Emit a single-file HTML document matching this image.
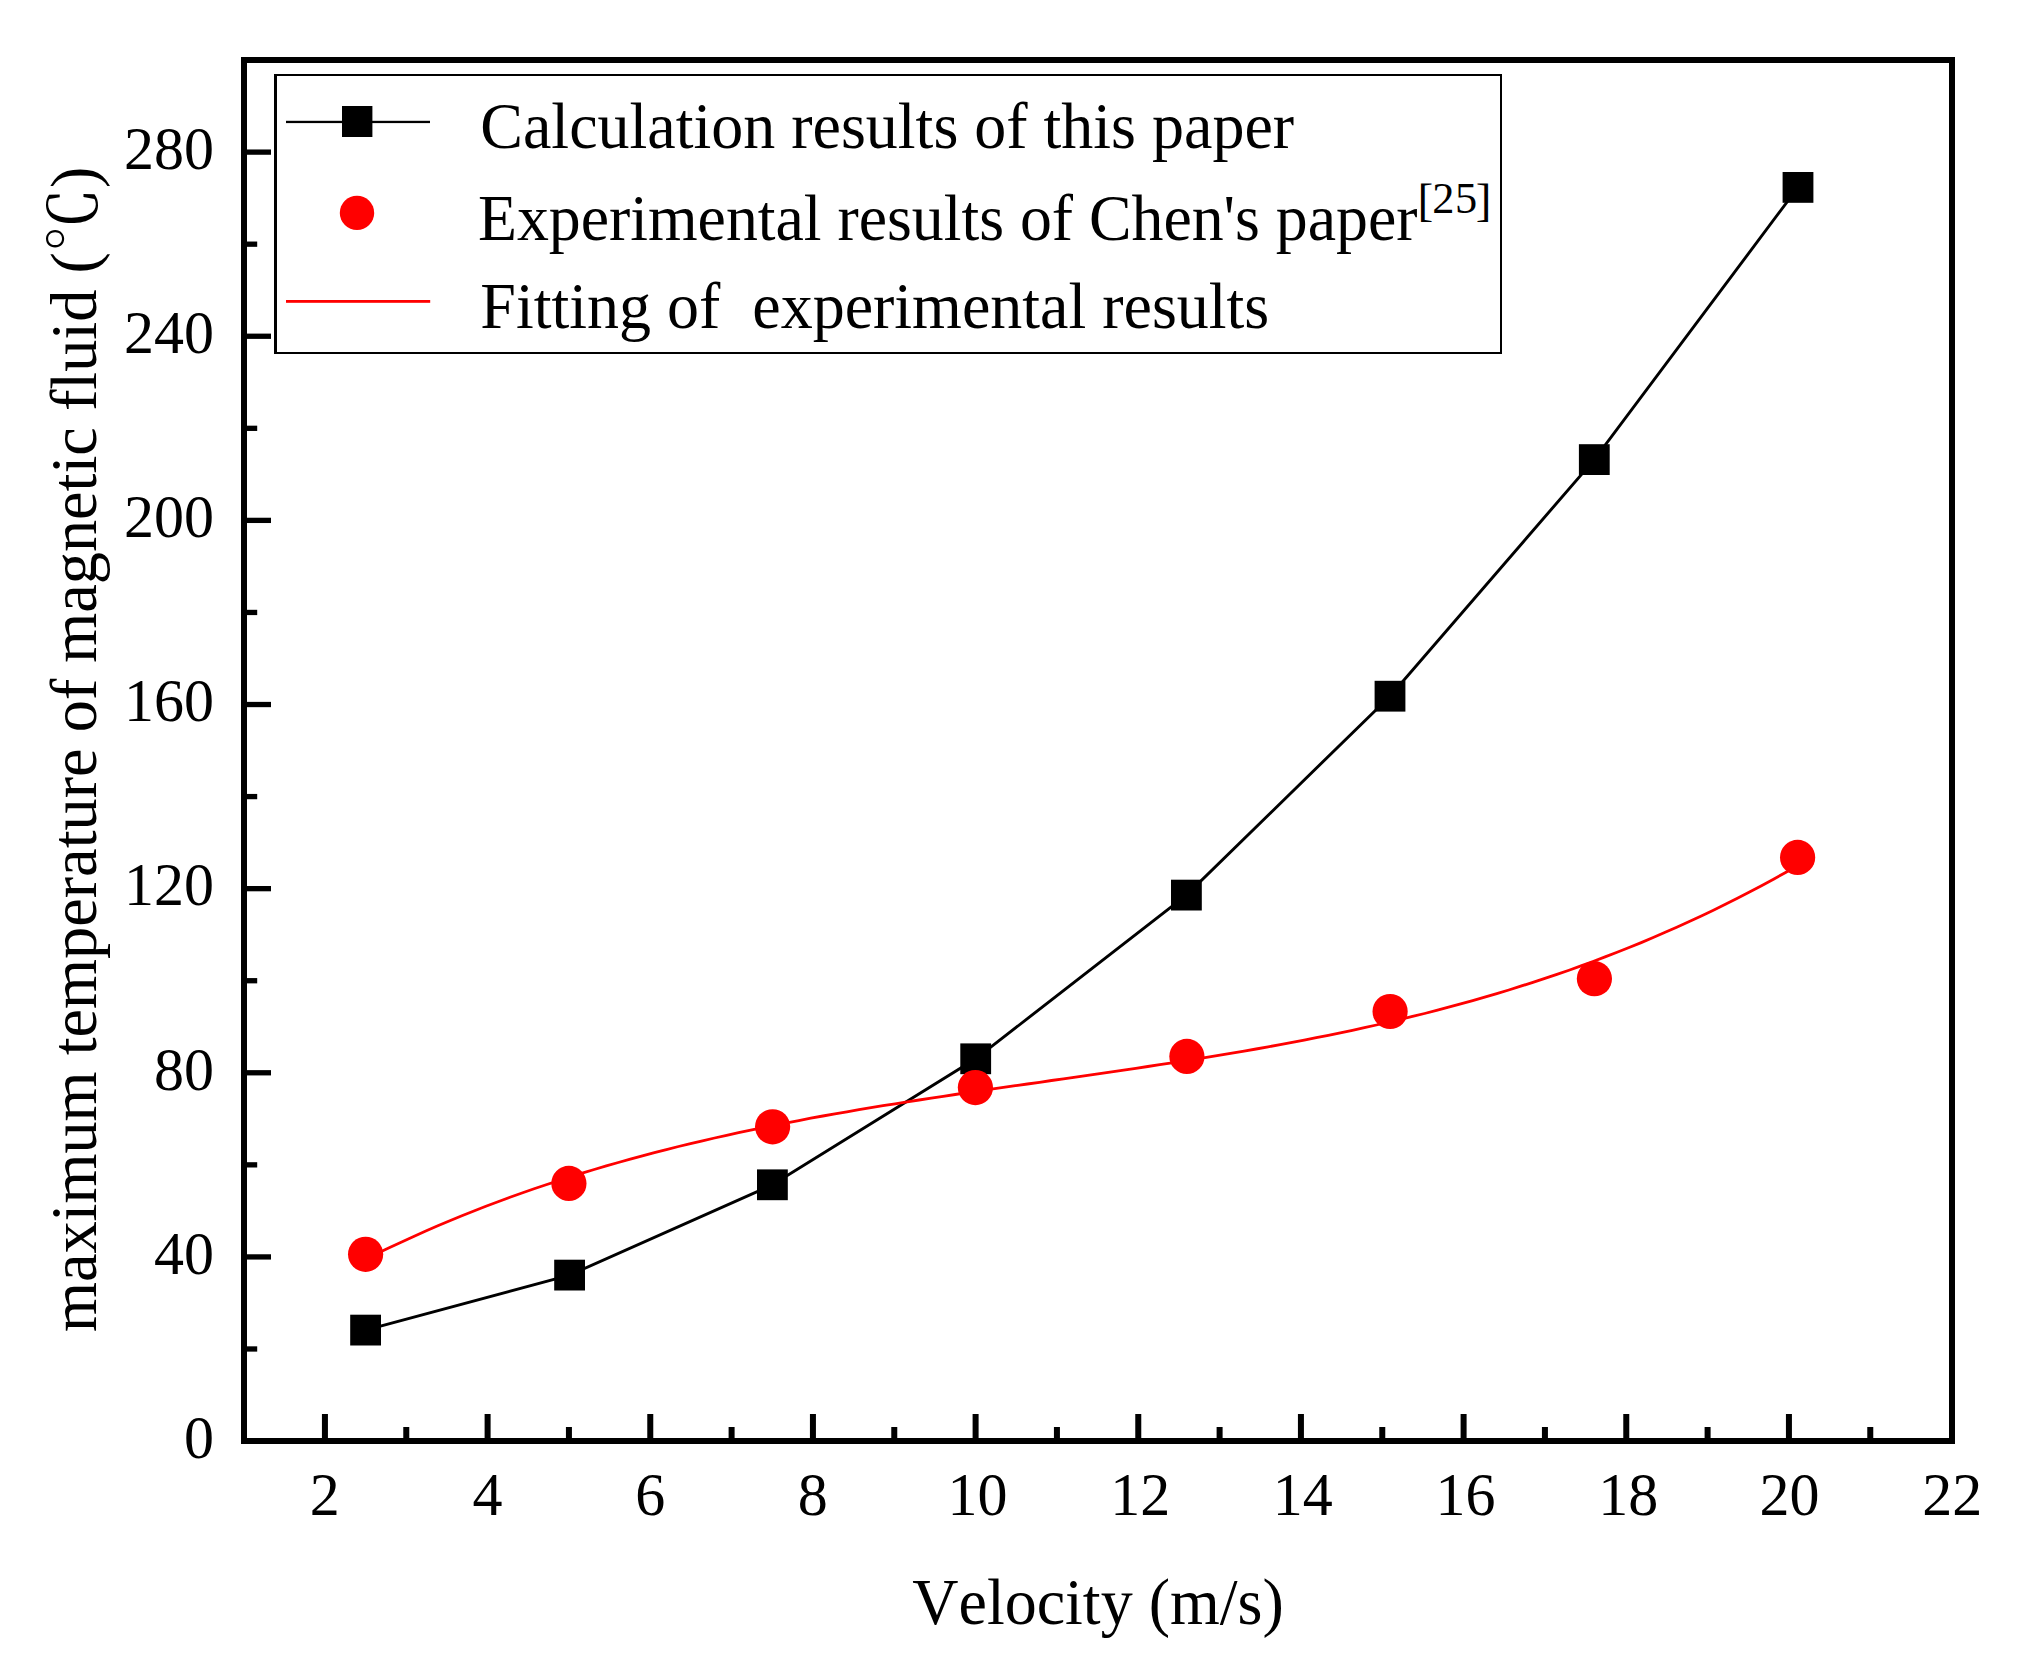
<!DOCTYPE html>
<html lang="en"><head><meta charset="utf-8"><title>Maximum temperature of magnetic fluid vs velocity</title>
<style>
html,body{margin:0;padding:0;background:#fff;}
body{width:2024px;height:1678px;overflow:hidden;}
svg{display:block;}
text{font-family:"Liberation Serif", "Noto Serif CJK SC", serif;fill:#000;font-kerning:none;}
.tick{font-size:60px;}
.ttl{font-size:64px;}
.lg{font-size:64px;}
</style></head><body>
<svg width="2024" height="1678" viewBox="0 0 2024 1678">
<rect x="0" y="0" width="2024" height="1678" fill="#fff"/>
<g fill="#000">
<rect x="321.93" y="1414" width="6" height="26"/>
<rect x="484.60" y="1414" width="6" height="26"/>
<rect x="647.27" y="1414" width="6" height="26"/>
<rect x="809.93" y="1414" width="6" height="26"/>
<rect x="972.60" y="1414" width="6" height="26"/>
<rect x="1135.27" y="1414" width="6" height="26"/>
<rect x="1297.93" y="1414" width="6" height="26"/>
<rect x="1460.60" y="1414" width="6" height="26"/>
<rect x="1623.27" y="1414" width="6" height="26"/>
<rect x="1785.93" y="1414" width="6" height="26"/>
<rect x="403.27" y="1427" width="6" height="13"/>
<rect x="565.93" y="1427" width="6" height="13"/>
<rect x="728.60" y="1427" width="6" height="13"/>
<rect x="891.27" y="1427" width="6" height="13"/>
<rect x="1053.93" y="1427" width="6" height="13"/>
<rect x="1216.60" y="1427" width="6" height="13"/>
<rect x="1379.27" y="1427" width="6" height="13"/>
<rect x="1541.93" y="1427" width="6" height="13"/>
<rect x="1704.60" y="1427" width="6" height="13"/>
<rect x="1867.27" y="1427" width="6" height="13"/>
<rect x="246" y="1254.27" width="25" height="5.3"/>
<rect x="246" y="1070.13" width="25" height="5.3"/>
<rect x="246" y="886.00" width="25" height="5.3"/>
<rect x="246" y="701.87" width="25" height="5.3"/>
<rect x="246" y="517.73" width="25" height="5.3"/>
<rect x="246" y="333.60" width="25" height="5.3"/>
<rect x="246" y="149.47" width="25" height="5.3"/>
<rect x="246" y="1346.33" width="11.2" height="5.3"/>
<rect x="246" y="1162.20" width="11.2" height="5.3"/>
<rect x="246" y="978.07" width="11.2" height="5.3"/>
<rect x="246" y="793.93" width="11.2" height="5.3"/>
<rect x="246" y="609.80" width="11.2" height="5.3"/>
<rect x="246" y="425.67" width="11.2" height="5.3"/>
<rect x="246" y="241.53" width="11.2" height="5.3"/>
</g>
<rect x="244" y="60" width="1708" height="1381" fill="none" stroke="#000" stroke-width="6" shape-rendering="crispEdges"/>
<text class="tick" text-anchor="middle" transform="translate(324.8,1515) scale(1,1.02)" >2</text>
<text class="tick" text-anchor="middle" transform="translate(487.5,1515) scale(1,1.02)" >4</text>
<text class="tick" text-anchor="middle" transform="translate(650.2,1515) scale(1,1.02)" >6</text>
<text class="tick" text-anchor="middle" transform="translate(812.8,1515) scale(1,1.02)" >8</text>
<text class="tick" text-anchor="middle" transform="translate(977.5,1515) scale(1,1.02)" >10</text>
<text class="tick" text-anchor="middle" transform="translate(1140.2,1515) scale(1,1.02)" >12</text>
<text class="tick" text-anchor="middle" transform="translate(1302.8,1515) scale(1,1.02)" >14</text>
<text class="tick" text-anchor="middle" transform="translate(1465.5,1515) scale(1,1.02)" >16</text>
<text class="tick" text-anchor="middle" transform="translate(1628.2,1515) scale(1,1.02)" >18</text>
<text class="tick" text-anchor="middle" transform="translate(1789.6,1515) scale(1,1.02)" >20</text>
<text class="tick" text-anchor="middle" transform="translate(1952.3,1515) scale(1,1.02)" >22</text>
<text class="tick" text-anchor="end" transform="translate(214,1457.8) scale(1,1.02)" >0</text>
<text class="tick" text-anchor="end" transform="translate(214,1273.7) scale(1,1.02)" >40</text>
<text class="tick" text-anchor="end" transform="translate(214,1089.5) scale(1,1.02)" >80</text>
<text class="tick" text-anchor="end" transform="translate(214,905.4) scale(1,1.02)" >120</text>
<text class="tick" text-anchor="end" transform="translate(214,721.3) scale(1,1.02)" >160</text>
<text class="tick" text-anchor="end" transform="translate(214,537.1) scale(1,1.02)" >200</text>
<text class="tick" text-anchor="end" transform="translate(214,353.0) scale(1,1.02)" >240</text>
<text class="tick" text-anchor="end" transform="translate(214,168.9) scale(1,1.02)" >280</text>
<text class="ttl" text-anchor="middle" transform="translate(1098,1624.3) scale(1,1.02)" >Velocity (m/s)</text>
<text class="ttl" text-anchor="middle" transform="translate(95.8,749.3) rotate(-90) scale(1,1.02)" textLength="1165.6" lengthAdjust="spacingAndGlyphs">maximum temperature of magnetic fluid (℃)</text>
<polyline points="365.6,1330.1 569.6,1275.1 772.4,1184.8 975.7,1058.8 1186.4,895.1 1390.0,696.2 1594.3,459.6 1798.0,187.4" fill="none" stroke="#000" stroke-width="2.9"/>
<rect x="350.2" y="1314.7" width="30.8" height="30.8" fill="#000"/>
<rect x="554.2" y="1259.7" width="30.8" height="30.8" fill="#000"/>
<rect x="757.0" y="1169.4" width="30.8" height="30.8" fill="#000"/>
<rect x="960.3" y="1043.4" width="30.8" height="30.8" fill="#000"/>
<rect x="1171.0" y="879.7" width="30.8" height="30.8" fill="#000"/>
<rect x="1374.6" y="680.8" width="30.8" height="30.8" fill="#000"/>
<rect x="1578.9" y="444.2" width="30.8" height="30.8" fill="#000"/>
<rect x="1782.6" y="172.0" width="30.8" height="30.8" fill="#000"/>
<polyline points="365.6,1259.2 377.6,1253.3 389.7,1247.5 401.7,1241.9 413.7,1236.4 425.8,1231.0 437.8,1225.8 449.8,1220.8 461.9,1215.8 473.9,1211.0 485.9,1206.3 498.0,1201.8 510.0,1197.3 522.0,1193.0 534.1,1188.8 546.1,1184.7 558.1,1180.8 570.2,1176.9 582.2,1173.1 594.2,1169.5 606.3,1165.9 618.3,1162.5 630.3,1159.1 642.4,1155.8 654.4,1152.6 666.4,1149.6 678.5,1146.5 690.5,1143.6 702.5,1140.8 714.6,1138.0 726.6,1135.3 738.6,1132.7 750.7,1130.1 762.7,1127.6 774.7,1125.2 786.8,1122.8 798.8,1120.5 810.8,1118.2 822.9,1116.0 834.9,1113.9 846.9,1111.8 859.0,1109.7 871.0,1107.7 883.0,1105.7 895.1,1103.8 907.1,1101.9 919.1,1100.0 931.2,1098.1 943.2,1096.3 955.2,1094.5 967.3,1092.7 979.3,1090.9 991.3,1089.2 1003.4,1087.4 1015.4,1085.7 1027.4,1084.0 1039.5,1082.3 1051.5,1080.5 1063.5,1078.8 1075.6,1077.1 1087.6,1075.4 1099.7,1073.6 1111.7,1071.9 1123.7,1070.1 1135.8,1068.3 1147.8,1066.5 1159.8,1064.7 1171.9,1062.9 1183.9,1061.0 1195.9,1059.1 1208.0,1057.1 1220.0,1055.1 1232.0,1053.1 1244.1,1051.1 1256.1,1049.0 1268.1,1046.8 1280.2,1044.6 1292.2,1042.4 1304.2,1040.1 1316.3,1037.7 1328.3,1035.3 1340.3,1032.8 1352.4,1030.3 1364.4,1027.6 1376.4,1025.0 1388.5,1022.2 1400.5,1019.4 1412.5,1016.4 1424.6,1013.5 1436.6,1010.4 1448.6,1007.2 1460.7,1003.9 1472.7,1000.6 1484.7,997.2 1496.8,993.6 1508.8,990.0 1520.8,986.2 1532.9,982.4 1544.9,978.4 1556.9,974.4 1569.0,970.2 1581.0,965.9 1593.0,961.5 1605.1,956.9 1617.1,952.3 1629.1,947.5 1641.2,942.6 1653.2,937.5 1665.2,932.3 1677.3,927.0 1689.3,921.5 1701.3,915.9 1713.4,910.2 1725.4,904.3 1737.4,898.2 1749.5,892.0 1761.5,885.7 1773.5,879.2 1785.6,872.5 1797.6,865.6" fill="none" stroke="#f00" stroke-width="2.8"/>
<circle cx="365.6" cy="1254.3" r="17.6" fill="#f00"/>
<circle cx="568.9" cy="1183.4" r="17.6" fill="#f00"/>
<circle cx="772.6" cy="1126.8" r="17.6" fill="#f00"/>
<circle cx="975.4" cy="1087.6" r="17.6" fill="#f00"/>
<circle cx="1186.9" cy="1056.4" r="17.6" fill="#f00"/>
<circle cx="1390.1" cy="1011.5" r="17.6" fill="#f00"/>
<circle cx="1594.4" cy="978.7" r="17.6" fill="#f00"/>
<circle cx="1797.6" cy="857.4" r="17.6" fill="#f00"/>
<rect x="274" y="74" width="1228" height="280" fill="#000"/><rect x="277" y="76" width="1223" height="276" fill="#fff"/>
<rect x="286" y="120.8" width="144" height="2.3" fill="#000"/>
<rect x="342" y="106" width="30.4" height="31" fill="#000"/>
<circle cx="357" cy="212.9" r="17.2" fill="#f00"/>
<rect x="286" y="300" width="144.2" height="2.8" fill="#f00"/>
<text class="lg" text-anchor="start" transform="translate(480.3,148) scale(1,1.02)" >Calculation results of this paper</text>
<text class="lg" text-anchor="start" transform="translate(478,240.4) scale(1,1.02)" textLength="939.5" lengthAdjust="spacingAndGlyphs">Experimental results of Chen's paper</text>
<text text-anchor="start" transform="translate(0,0)"><tspan x="1417.4" y="215.7" font-size="47.2">[</tspan><tspan x="1432.2" y="213.1" font-size="44.4">2</tspan><tspan x="1455" y="213.1" font-size="44.4">5</tspan><tspan x="1475.8" y="215.7" font-size="47.2">]</tspan></text>
<text class="lg" text-anchor="start" transform="translate(480.3,327.8) scale(1,1.02)" xml:space="preserve">Fitting of  experimental results</text>
</svg></body></html>
